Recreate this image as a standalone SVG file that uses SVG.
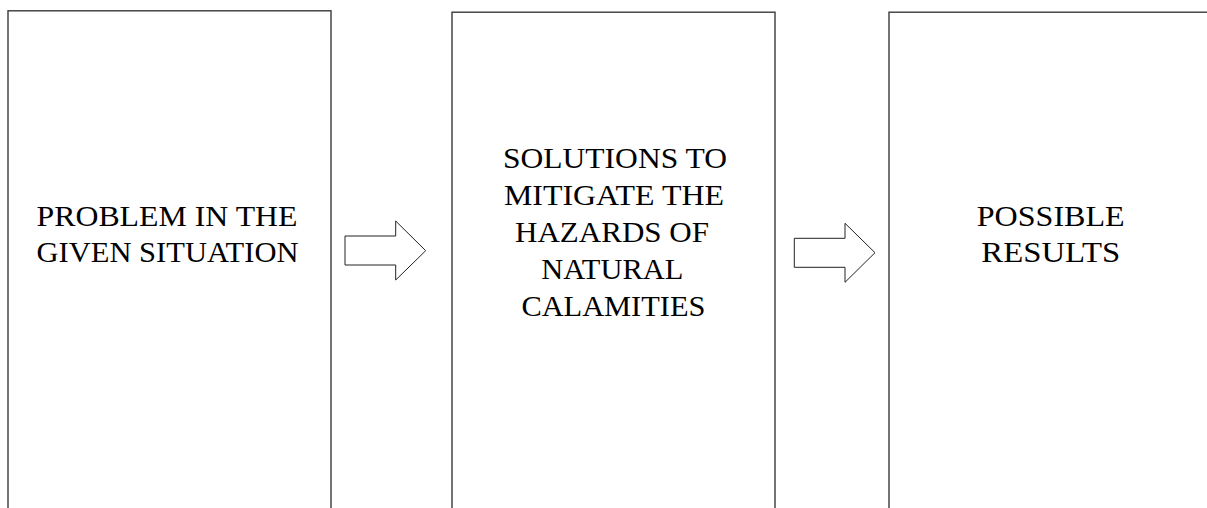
<svg xmlns="http://www.w3.org/2000/svg" width="1207" height="508" viewBox="0 0 1207 508">
<style>
.box{fill:#fff;stroke:#3a3a3a;stroke-width:1.4}
.arrow{fill:#fff;stroke:#222;stroke-width:1}
.lbl{font-family:"Liberation Serif","Times New Roman",serif;font-size:28.5px;fill:#000;text-anchor:middle}
</style>
<rect width="1207" height="508" fill="#fff"/>
<g id="node-problem">
<rect class="box" x="8" y="10.8" width="323" height="520"/>
<text class="lbl" x="167" y="225.5" textLength="261" lengthAdjust="spacingAndGlyphs">PROBLEM IN THE</text>
<text class="lbl" x="167.5" y="261.5" textLength="262" lengthAdjust="spacingAndGlyphs">GIVEN SITUATION</text>
</g>
<g id="node-solutions">
<rect class="box" x="452" y="12.2" width="323" height="520"/>
<text class="lbl" x="615" y="167.5" textLength="224" lengthAdjust="spacingAndGlyphs">SOLUTIONS TO</text>
<text class="lbl" x="614" y="205" textLength="220" lengthAdjust="spacingAndGlyphs">MITIGATE THE</text>
<text class="lbl" x="612" y="242.3" textLength="194" lengthAdjust="spacingAndGlyphs">HAZARDS OF</text>
<text class="lbl" x="612.3" y="279.3" textLength="142" lengthAdjust="spacingAndGlyphs">NATURAL</text>
<text class="lbl" x="613.4" y="315.5" textLength="184" lengthAdjust="spacingAndGlyphs">CALAMITIES</text>
</g>
<g id="node-results">
<rect class="box" x="889" y="12.2" width="323" height="520"/>
<text class="lbl" x="1050.7" y="225.7" textLength="148" lengthAdjust="spacingAndGlyphs">POSSIBLE</text>
<text class="lbl" x="1050.8" y="261.7" textLength="139" lengthAdjust="spacingAndGlyphs">RESULTS</text>
</g>
<g id="connectors">
<polygon class="arrow" points="345,236 395.7,236 395.7,221 425.7,250.7 395.7,280 395.7,265 345,265"/>
<polygon class="arrow" points="794.3,238.3 845,238.3 845,223.3 875,252.7 845,282.3 845,267.3 794.3,267.3"/>
</g>
</svg>
